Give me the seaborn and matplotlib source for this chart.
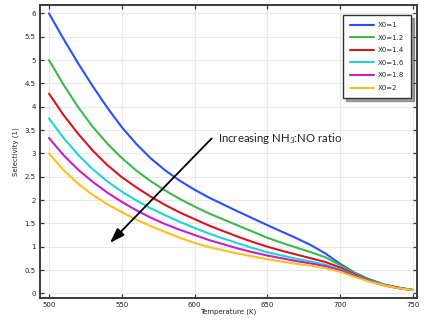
import numpy as np
import pandas as pd
import matplotlib
matplotlib.use("Agg")
import matplotlib.pyplot as plt
import seaborn as sns

temperature = [500, 510, 520, 530, 540, 550, 560, 570, 580, 590, 600, 610, 620,
               630, 640, 650, 660, 670, 680, 690, 700, 710, 720, 730, 740, 750]

sel_x0_1 = [6.00, 5.45, 4.93, 4.44, 3.98, 3.56, 3.20, 2.89, 2.63, 2.41, 2.22, 2.05, 1.90,
            1.75, 1.605, 1.46, 1.32, 1.18, 1.03, 0.85, 0.63, 0.44, 0.30, 0.19, 0.12, 0.07]
sel_x0_12 = [5.00, 4.47, 3.99, 3.57, 3.21, 2.90, 2.63, 2.40, 2.20, 2.02, 1.86, 1.71, 1.58,
             1.45, 1.32, 1.19, 1.08, 0.98, 0.88, 0.77, 0.60, 0.43, 0.29, 0.19, 0.12, 0.07]
sel_x0_14 = [4.28, 3.82, 3.42, 3.06, 2.75, 2.49, 2.27, 2.07, 1.89, 1.73, 1.59, 1.45, 1.33,
             1.21, 1.10, 1.00, 0.91, 0.83, 0.75, 0.67, 0.55, 0.40, 0.28, 0.18, 0.12, 0.07]
sel_x0_16 = [3.75, 3.33, 2.97, 2.66, 2.40, 2.18, 1.99, 1.82, 1.67, 1.53, 1.40, 1.28, 1.17,
             1.07, 0.97, 0.88, 0.81, 0.74, 0.68, 0.61, 0.51, 0.38, 0.27, 0.18, 0.11, 0.07]
sel_x0_18 = [3.33, 2.96, 2.65, 2.39, 2.16, 1.96, 1.78, 1.62, 1.48, 1.36, 1.25, 1.14, 1.05,
             0.96, 0.88, 0.81, 0.75, 0.69, 0.64, 0.58, 0.49, 0.37, 0.26, 0.17, 0.11, 0.07]
sel_x0_2 = [3.00, 2.64, 2.35, 2.11, 1.91, 1.74, 1.58, 1.44, 1.31, 1.19, 1.08, 0.99, 0.92,
            0.85, 0.79, 0.73, 0.68, 0.63, 0.59, 0.54, 0.46, 0.35, 0.25, 0.17, 0.11, 0.07]

series_labels = ["X0=1", "X0=1.2", "X0=1.4", "X0=1.6", "X0=1.8", "X0=2"]
series_values = [sel_x0_1, sel_x0_12, sel_x0_14, sel_x0_16, sel_x0_18, sel_x0_2]
colors = ["#2b50f2", "#3cb94a", "#d6161e", "#22d3d3", "#c51fc9", "#ffc01f"]

x_ticks = [500, 550, 600, 650, 700, 750]
y_ticks = [0, 0.5, 1, 1.5, 2, 2.5, 3, 3.5, 4, 4.5, 5, 5.5, 6]
y_tick_labels = ["0", "0.5", "1", "1.5", "2", "2.5", "3", "3.5", "4", "4.5", "5", "5.5", "6"]

annot_text = "Increasing NH$_3$:NO ratio"
arrow_start = (611.7, 3.32)
arrow_end = (541.8, 1.08)

rows = []
for lab, vals in zip(series_labels, series_values):
    for t, v in zip(temperature, vals):
        rows.append({"Temperature": t, "Selectivity": v, "series": lab})
df = pd.DataFrame(rows)

sns.set_theme(style="ticks")
plt.rcParams["font.family"] = ["DejaVu Sans"]
plt.rcParams["mathtext.fontset"] = "custom"
plt.rcParams["mathtext.rm"] = "Lato"
plt.rcParams["mathtext.it"] = "Lato:italic"

fig = plt.figure(figsize=(4.28, 3.22), dpi=100)
ax = fig.add_axes([40 / 428, 1 - 298 / 322, (417 - 40) / 428, (298 - 5) / 322])

sns.lineplot(data=df, x="Temperature", y="Selectivity", hue="series",
             hue_order=series_labels, palette=colors, linewidth=1.5, ax=ax)

ax.set_xlim(493.8, 752.7)
ax.set_ylim(-0.1, 6.18)
ax.set_xticks(x_ticks)
ax.set_xticklabels([str(t) for t in x_ticks])
ax.set_yticks(y_ticks)
ax.set_yticklabels(y_tick_labels)
ax.grid(True, color="#e8e8e8", linewidth=0.8)
ax.set_axisbelow(True)

for s in ax.spines.values():
    s.set_color("#3a3a3a")
    s.set_linewidth(1.4)
ax.tick_params(direction="in", top=True, right=True, length=3, width=0.9,
               colors="#3a3a3a", labelsize=5, labelcolor="#222222", pad=3)

ax.set_xlabel("Temperature (K)", fontsize=5, labelpad=0, color="#222222")
ax.set_ylabel("Selectivity (1)", fontsize=5, labelpad=4, color="#222222")

ax.annotate("", xy=arrow_end, xytext=arrow_start,
            arrowprops=dict(arrowstyle="-|>,head_length=0.9,head_width=0.3",
                            color="black", lw=1.3,
                            mutation_scale=10, shrinkA=0, shrinkB=0))
ax.text(616.3, 3.32, annot_text, fontsize=8.2, family="Lato", va="center", ha="left",
        color="#222222")

leg = ax.legend(loc="upper right", bbox_to_anchor=((411 - 40) / 377, 1 - 10 / 293),
                borderaxespad=0, fontsize=5, frameon=True, fancybox=False, shadow=True,
                handlelength=3.4, handletextpad=0.6, labelspacing=0.95,
                borderpad=1.0, title=None)
leg.get_frame().set_edgecolor("#333333")
leg.get_frame().set_linewidth(1.0)
for line in leg.get_lines():
    line.set_linewidth(1.5)

fig.savefig("out.png", dpi=100)
